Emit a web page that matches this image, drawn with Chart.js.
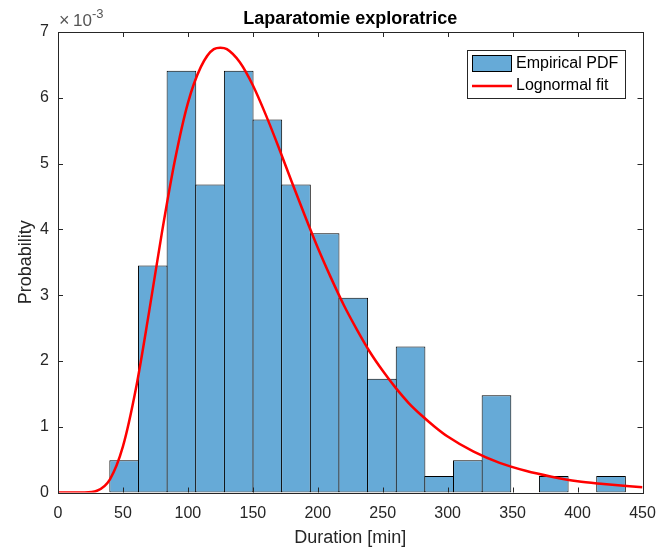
<!DOCTYPE html>
<html>
<head>
<meta charset="utf-8">
<title>Laparatomie exploratrice</title>
<script src="https://cdn.jsdelivr.net/npm/chart.js@4/dist/chart.umd.min.js"></script>
<style>
  body { margin: 0; background: #fff; }
  canvas { display: block; }
</style>
</head>
<body>
<canvas id="durationChart" width="658" height="550"></canvas>
<script>
// histogram: bin centres [min] and empirical density (x 1e-3)
const binCenters = [50.93, 72.98, 95.03, 117.08, 139.13, 161.18, 183.23, 205.28, 227.33,
  249.38, 271.43, 293.48, 315.53, 337.58, 359.63, 381.68, 403.73, 425.78];
const binDensity = [0.49, 3.45, 6.41, 4.68, 6.41, 5.67, 4.68, 3.94, 2.96,
  1.73, 2.22, 0.25, 0.49, 1.48, 0, 0.25, 0, 0.25];

// lognormal fit curve (x 1e-3)
const fitX = [0, 10, 20, 30, 40, 50, 60, 70, 80, 90, 100, 110, 120, 125, 130, 140, 150, 160,
  170, 180, 190, 200, 210, 220, 230, 240, 250, 260, 270, 280, 290, 300, 320, 340, 360, 380,
  400, 420, 450];
const fitY = [0, 0, 0.001, 0.027, 0.20, 0.70, 1.58, 2.73, 3.95, 5.05, 5.92, 6.47, 6.74, 6.76,
  6.74, 6.54, 6.19, 5.74, 5.24, 4.72, 4.21, 3.72, 3.27, 2.85, 2.48, 2.14, 1.85, 1.59, 1.36,
  1.17, 1.00, 0.85, 0.62, 0.45, 0.33, 0.24, 0.17, 0.13, 0.08];

const xTickValues = [0, 50, 100, 150, 200, 250, 300, 350, 400, 450];
const yTickValues = [0, 1, 2, 3, 4, 5, 6, 7];

const chartTitle = "Laparatomie exploratrice";
const xTitle = "Duration [min]";
const yTitle = "Probability";

const axisColor = "#262626";
const barColor = "rgb(102, 170, 215)";
const edgeColor = "#000";
const fitColor = "#ff0000";
const fontFamily = "'Liberation Sans', Arial, Helvetica, sans-serif";

// box, inward ticks, titles and legend drawn on top, MATLAB style
const matlabFrame = {
  id: "matlabFrame",
  afterDatasetsDraw(chart) {
    const ctx = chart.ctx;
    const area = chart.chartArea;
    const xs = chart.scales.x;
    const ys = chart.scales.y;
    const tick = 5;

    ctx.save();
    ctx.strokeStyle = axisColor;
    ctx.lineWidth = 1;
    ctx.strokeRect(Math.round(area.left) + 0.5, Math.round(area.top) + 0.5,
      Math.round(area.right - area.left), Math.round(area.bottom - area.top));

    ctx.beginPath();
    xTickValues.forEach(v => {
      const px = Math.round(xs.getPixelForValue(v)) + 0.5;
      ctx.moveTo(px, area.bottom);
      ctx.lineTo(px, area.bottom - tick);
      ctx.moveTo(px, area.top);
      ctx.lineTo(px, area.top + tick);
    });
    yTickValues.forEach(v => {
      const py = Math.round(ys.getPixelForValue(v)) + 0.5;
      ctx.moveTo(area.left, py);
      ctx.lineTo(area.left + tick, py);
      ctx.moveTo(area.right, py);
      ctx.lineTo(area.right - tick, py);
    });
    ctx.stroke();

    // title and axis labels
    const midX = (area.left + area.right) / 2;
    ctx.fillStyle = "#000";
    ctx.textAlign = "center";
    ctx.textBaseline = "alphabetic";
    ctx.font = "bold 18px " + fontFamily;
    ctx.fillText(chartTitle, midX, 24);

    ctx.fillStyle = axisColor;
    ctx.font = "18px " + fontFamily;
    ctx.fillText(xTitle, midX, 543);

    ctx.save();
    ctx.translate(31, (area.top + area.bottom) / 2);
    ctx.rotate(-Math.PI / 2);
    ctx.fillText(yTitle, 0, 0);
    ctx.restore();

    // exponent label above the y axis
    ctx.textAlign = "left";
    ctx.fillStyle = "#555";
    ctx.font = "18px " + fontFamily;
    ctx.fillText("\u00d7", 59, 26);
    ctx.font = "17px " + fontFamily;
    ctx.fillText("10", 73, 26);
    ctx.font = "13px " + fontFamily;
    ctx.fillText("-3", 92, 18);

    // legend
    const lx = 467, ly = 50, lw = 158, lh = 48;
    ctx.fillStyle = "#fff";
    ctx.fillRect(lx, ly, lw, lh);
    ctx.strokeStyle = axisColor;
    ctx.lineWidth = 1;
    ctx.strokeRect(lx + 0.5, ly + 0.5, lw, lh);

    ctx.fillStyle = barColor;
    ctx.fillRect(472, 55, 40, 17);
    ctx.strokeStyle = edgeColor;
    ctx.strokeRect(472.5, 55.5, 39, 16);

    ctx.strokeStyle = fitColor;
    ctx.lineWidth = 2.5;
    ctx.beginPath();
    ctx.moveTo(472, 86);
    ctx.lineTo(512, 86);
    ctx.stroke();

    ctx.fillStyle = "#000";
    ctx.font = "16px " + fontFamily;
    ctx.textBaseline = "middle";
    ctx.fillText(chart.data.datasets[1].label, 516, 64);
    ctx.fillText(chart.data.datasets[0].label, 516, 86);
    ctx.restore();
  }
};

const ctx = document.getElementById("durationChart").getContext("2d");

const durationChart = new Chart(ctx, {
  type: "bar",
  data: {
    datasets: [
      {
        type: "line",
        label: "Lognormal fit",
        data: fitX.map((x, i) => ({ x, y: fitY[i] })),
        borderColor: fitColor,
        borderWidth: 2.5,
        pointRadius: 0,
        fill: false,
        cubicInterpolationMode: "monotone",
        order: 0
      },
      {
        type: "bar",
        label: "Empirical PDF",
        data: binCenters.map((x, i) => ({ x, y: binDensity[i] })),
        backgroundColor: barColor,
        borderColor: edgeColor,
        borderWidth: 1,
        borderSkipped: false,
        barPercentage: 1.035,
        categoryPercentage: 1,
        order: 1
      }
    ]
  },
  plugins: [matlabFrame],
  options: {
    responsive: false,
    animation: false,
    devicePixelRatio: 1,
    layout: { padding: { top: 32, right: 15.5, bottom: 0, left: 0 } },
    plugins: {
      legend: { display: false },
      tooltip: { enabled: false }
    },
    scales: {
      x: {
        type: "linear",
        min: 0,
        max: 450,
        offset: false,
        grid: { display: false, drawTicks: false },
        border: { display: false },
        afterBuildTicks: s => { s.ticks = xTickValues.map(v => ({ value: v })); },
        afterFit: s => { s.height = 57.5; s.paddingLeft = 0; s.paddingRight = 0; },
        ticks: {
          color: axisColor,
          font: { family: fontFamily, size: 16 },
          padding: 11,
          maxRotation: 0
        }
      },
      y: {
        min: 0,
        max: 7,
        grid: { display: false, drawTicks: false },
        border: { display: false },
        afterBuildTicks: s => { s.ticks = yTickValues.map(v => ({ value: v })); },
        afterFit: s => { s.width = 58; s.paddingTop = 0; s.paddingBottom = 0; },
        ticks: {
          color: axisColor,
          font: { family: fontFamily, size: 16 },
          padding: 9
        }
      }
    }
  }
});
</script>
</body>
</html>
